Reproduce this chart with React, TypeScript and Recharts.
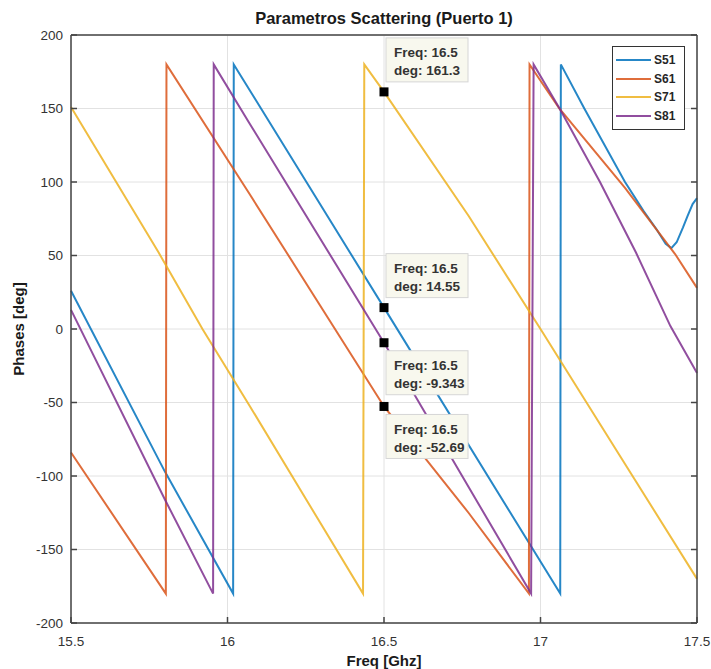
import React from 'react';
import { LineChart, Line, XAxis, YAxis, CartesianGrid, ReferenceDot } from 'recharts';

// phase readings per port (freq in GHz, phase in deg)
const S51 = [
  { f: 15.5, deg: 26 },
  { f: 15.8, deg: -97 },
  { f: 16.018, deg: -180 },
  { f: 16.02, deg: 180 },
  { f: 16.5, deg: 14.55 },
  { f: 17.063, deg: -180 },
  { f: 17.065, deg: 180 },
  { f: 17.14, deg: 150 },
  { f: 17.27, deg: 100 },
  { f: 17.33, deg: 80 },
  { f: 17.37, deg: 68 },
  { f: 17.4, deg: 58 },
  { f: 17.418, deg: 55 },
  { f: 17.435, deg: 59 },
  { f: 17.455, deg: 69 },
  { f: 17.47, deg: 77 },
  { f: 17.486, deg: 85 },
  { f: 17.5, deg: 89 },
];

const S61 = [
  { f: 15.5, deg: -84 },
  { f: 15.803, deg: -180 },
  { f: 15.805, deg: 180 },
  { f: 16.07, deg: 92 },
  { f: 16.5, deg: -52.69 },
  { f: 16.77, deg: -125 },
  { f: 16.963, deg: -180 },
  { f: 16.965, deg: 180 },
  { f: 17.06, deg: 150 },
  { f: 17.27, deg: 96 },
  { f: 17.43, deg: 51 },
  { f: 17.5, deg: 28 },
];

const S71 = [
  { f: 15.5, deg: 151 },
  { f: 15.78, deg: 52 },
  { f: 15.92, deg: 0 },
  { f: 16.07, deg: -52 },
  { f: 16.433, deg: -180 },
  { f: 16.437, deg: 180 },
  { f: 16.5, deg: 161.3 },
  { f: 16.77, deg: 77 },
  { f: 17.0, deg: 0 },
  { f: 17.25, deg: -85 },
  { f: 17.5, deg: -170 },
];

const S81 = [
  { f: 15.5, deg: 13 },
  { f: 15.8, deg: -116 },
  { f: 15.954, deg: -180 },
  { f: 15.956, deg: 180 },
  { f: 16.07, deg: 140 },
  { f: 16.5, deg: -9.343 },
  { f: 16.97, deg: -180 },
  { f: 16.978, deg: 180 },
  { f: 17.061, deg: 150 },
  { f: 17.19, deg: 100 },
  { f: 17.305, deg: 52 },
  { f: 17.415, deg: 2 },
  { f: 17.5, deg: -30 },
];

const X_TICKS = [15.5, 16, 16.5, 17, 17.5];
const Y_TICKS = [-200, -150, -100, -50, 0, 50, 100, 150, 200];

// datatips shown at 16.5 GHz
const TIPS = [
  { f: 16.5, deg: 161.3, text: '161.3', side: 'up' },
  { f: 16.5, deg: 14.55, text: '14.55', side: 'up' },
  { f: 16.5, deg: -9.343, text: '-9.343', side: 'down' },
  { f: 16.5, deg: -52.69, text: '-52.69', side: 'down' },
];

const SERIES = [
  { name: 'S51', color: '#0072BD', data: S51 },
  { name: 'S61', color: '#D95319', data: S61 },
  { name: 'S71', color: '#EDB120', data: S71 },
  { name: 'S81', color: '#7E2F8E', data: S81 },
];

const AXIS = '#444';
const LABEL = '#333';
const FONT = '"Liberation Sans", Arial, sans-serif';
const TICK_LEN = 6;

// inward tick marks (MATLAB style), drawn next to the labels
const BottomTick = ({ x, y, payload }: any) => (
  <g>
    <line x1={x} x2={x} y1={y - 13} y2={y - 13 - TICK_LEN} stroke={AXIS} strokeWidth={1.5} />
    <text x={x} y={y} dy="0.71em" textAnchor="middle" fill={LABEL} fontSize={13.5}>
      {payload.value}
    </text>
  </g>
);

const LeftTick = ({ x, y, payload }: any) => (
  <g>
    <line x1={x + 8} x2={x + 8 + TICK_LEN} y1={y} y2={y} stroke={AXIS} strokeWidth={1.5} />
    <text x={x} y={y} dy="0.355em" textAnchor="end" fill={LABEL} fontSize={13.5}>
      {payload.value}
    </text>
  </g>
);

const TopTick = ({ x, y }: any) => (
  <line x1={x} x2={x} y1={y} y2={y + TICK_LEN} stroke={AXIS} strokeWidth={1.5} />
);

const RightTick = ({ x, y }: any) => (
  <line x1={x} x2={x - TICK_LEN} y1={y} y2={y} stroke={AXIS} strokeWidth={1.5} />
);

const tipShape = (tip: any) => (props: any) => {
  const { cx, cy } = props;
  const top = tip.side === 'up' ? cy - 54 : cy + 8;
  const txt = { fontSize: 13.5, fontWeight: 'bold', fill: '#333', fontFamily: FONT };
  return (
    <g>
      <rect x={cx + 2} y={top} width={82} height={44} fill="#f8f8ee" stroke="#d6d6d6" />
      <text x={cx + 10} y={top + 15} dominantBaseline="central" {...txt}>
        Freq: {tip.f}
      </text>
      <text x={cx + 10} y={top + 33} dominantBaseline="central" {...txt}>
        deg: {tip.text}
      </text>
      <rect x={cx - 4.5} y={cy - 4.5} width={9} height={9} fill="#000" />
    </g>
  );
};

function LegendBox() {
  return (
    <div
      style={{
        position: 'absolute',
        top: 46,
        left: 612,
        border: '1.5px solid #333',
        background: '#fff',
        padding: '4px 3px',
        width: 65,
        zIndex: 2,
      }}
    >
      {SERIES.map((s) => (
        <div key={s.name} style={{ display: 'flex', alignItems: 'center', height: 18.5 }}>
          <svg width={35} height={4}>
            <line x1={0} y1={2} x2={35} y2={2} stroke={s.color} strokeWidth={2} strokeOpacity={0.85} />
          </svg>
          <span style={{ marginLeft: 3, fontWeight: 'bold', fontSize: 12, color: '#262626' }}>
            {s.name}
          </span>
        </div>
      ))}
    </div>
  );
}

export default function App() {
  return (
    <div style={{ position: 'relative', width: 711, height: 669, fontFamily: FONT, background: '#fff' }}>
      <style>{'body{margin:0}'}</style>
      <div
        style={{
          position: 'absolute',
          top: 8,
          left: 71,
          width: 626,
          textAlign: 'center',
          fontSize: 16.5,
          fontWeight: 'bold',
          lineHeight: '20px',
          color: '#1a1a1a',
          zIndex: 2,
        }}
      >
        Parametros Scattering (Puerto 1)
      </div>
      <LegendBox />
      <LineChart width={711} height={669} margin={{ top: 34, right: 13, bottom: 0, left: 0 }}>
        <CartesianGrid stroke="#e2e2e2" strokeWidth={1} />
        <XAxis
          xAxisId={0}
          type="number"
          dataKey="f"
          domain={[15.5, 17.5]}
          ticks={X_TICKS}
          height={46}
          tickSize={0}
          tickMargin={13}
          tickLine={false}
          axisLine={{ stroke: AXIS, strokeWidth: 1.5 }}
          tick={BottomTick}
          label={{
            value: 'Freq [Ghz]',
            position: 'insideBottom',
            offset: 3,
            fill: '#1a1a1a',
            fontSize: 15,
            fontWeight: 'bold',
          }}
        />
        <XAxis
          xAxisId="top"
          orientation="top"
          type="number"
          domain={[15.5, 17.5]}
          allowDataOverflow
          ticks={X_TICKS}
          height={1}
          tickSize={0}
          tickMargin={0}
          tickLine={false}
          tick={TopTick}
          axisLine={{ stroke: AXIS, strokeWidth: 1.5 }}
        />
        <YAxis
          yAxisId={0}
          type="number"
          domain={[-200, 200]}
          ticks={Y_TICKS}
          width={71}
          tickSize={0}
          tickMargin={8}
          tickLine={false}
          axisLine={{ stroke: AXIS, strokeWidth: 1.5 }}
          tick={LeftTick}
          label={{
            value: 'Phases [deg]',
            angle: -90,
            position: 'insideLeft',
            offset: 19,
            fill: '#1a1a1a',
            fontSize: 15,
            fontWeight: 'bold',
            style: { textAnchor: 'middle' },
          }}
        />
        <YAxis
          yAxisId="right"
          orientation="right"
          type="number"
          domain={[-200, 200]}
          allowDataOverflow
          ticks={Y_TICKS}
          width={1}
          tickSize={0}
          tickMargin={0}
          tickLine={false}
          tick={RightTick}
          axisLine={{ stroke: AXIS, strokeWidth: 1.5 }}
        />
        {SERIES.map((s) => (
          <Line
            key={s.name}
            data={s.data}
            dataKey="deg"
            name={s.name}
            type="linear"
            stroke={s.color}
            strokeWidth={2}
            strokeOpacity={0.85}
            dot={false}
            isAnimationActive={false}
          />
        ))}
        {TIPS.map((t) => (
          <ReferenceDot key={t.text} x={t.f} y={t.deg} r={4} shape={tipShape(t)} />
        ))}
      </LineChart>
    </div>
  );
}
